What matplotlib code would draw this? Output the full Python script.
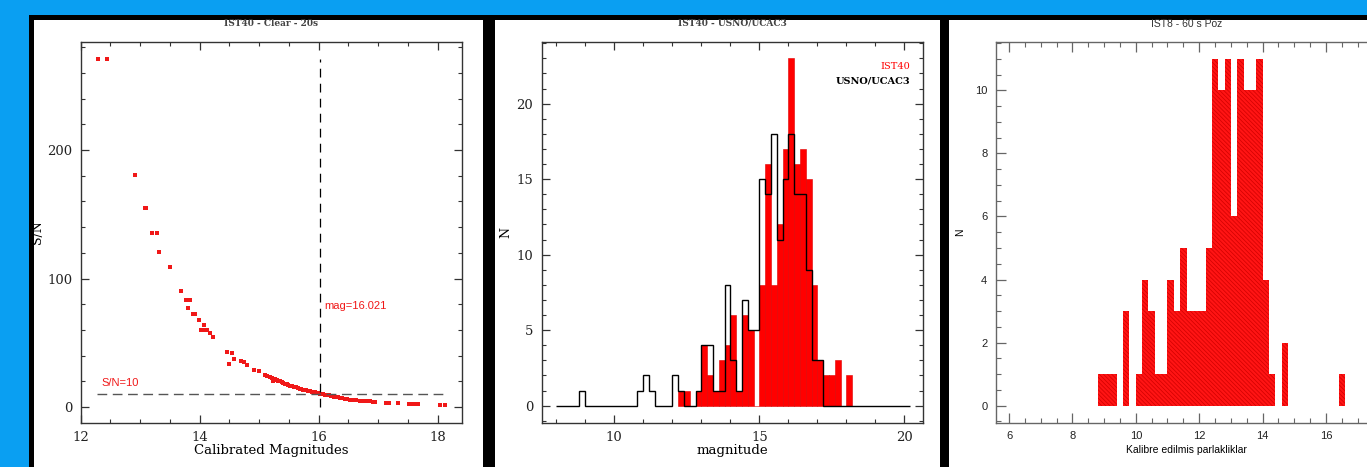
import numpy as np
import matplotlib
matplotlib.use("Agg")
import matplotlib.pyplot as plt
from matplotlib.patches import Rectangle
from matplotlib.ticker import MultipleLocator

# panel 1: S/N vs calibrated magnitude (IST40, Clear, 20s)
sn_mag = [12.29, 12.45, 12.91, 13.08, 13.10, 13.20, 13.28, 13.32, 13.50, 13.69,
          13.77, 13.84, 13.81, 13.89, 13.92, 13.99, 14.08, 14.03, 14.09, 14.13,
          14.17, 14.23, 14.46, 14.54, 14.49, 14.57, 14.69, 14.75, 14.79, 14.92,
          15.00, 15.09, 15.13, 15.18, 15.23, 15.22, 15.27, 15.30, 15.32, 15.35,
          15.38, 15.40, 15.43, 15.46, 15.49, 15.52, 15.55, 15.58, 15.62, 15.65,
          15.68, 15.70, 15.73, 15.76, 15.79, 15.82, 15.85, 15.88, 15.91, 15.94,
          15.97, 16.00, 16.03, 16.05, 16.08, 16.11, 16.14, 16.17, 16.20, 16.23,
          16.26, 16.29, 16.32, 16.36, 16.40, 16.44, 16.48, 16.53, 16.58, 16.63,
          16.69, 16.75, 16.80, 16.86, 16.92, 16.95, 17.13, 17.18, 17.33, 17.52,
          17.58, 17.64, 17.67, 18.04, 18.12]
sn_val = [271.0, 271.0, 180.5, 154.6, 154.6, 135.7, 135.7, 120.4, 108.7, 90.5,
          83.5, 83.5, 77.3, 72.4, 72.4, 67.4, 64.0, 60.2, 60.2, 60.2,
          57.6, 54.2, 42.8, 42.0, 33.7, 37.6, 36.0, 35.3, 33.0, 29.0,
          28.3, 25.2, 24.4, 23.6, 20.0, 22.5, 21.8, 21.0, 20.5, 20.0,
          19.5, 18.8, 18.2, 17.6, 16.9, 16.5, 16.1, 15.5, 15.2, 14.8,
          14.3, 14.0, 13.6, 13.3, 13.0, 12.6, 12.3, 12.0, 11.7, 11.4,
          11.1, 10.8, 10.5, 10.2, 9.9, 9.6, 9.3, 9.0, 8.7, 8.4,
          8.1, 7.8, 7.5, 7.2, 6.8, 6.5, 6.2, 5.8, 5.5, 5.2,
          4.9, 4.6, 4.4, 4.3, 4.1, 4.0, 3.5, 3.4, 3.0, 2.4,
          2.4, 2.3, 2.2, 1.3, 1.3]
mag_limit = 16.021
sn_limit = 10

# panel 2: IST40 vs USNO/UCAC3 histograms (bin width 0.2)
ist40_edges = np.round(np.arange(12.2, 18.21, 0.2), 2)
ist40_counts = [1, 1, 0, 1, 4, 2, 1, 3, 4, 6, 1, 6, 5, 0, 8, 16, 8, 12, 17, 23,
                16, 17, 15, 8, 3, 2, 2, 3, 0, 2]
usno_edges = np.round(np.arange(8.0, 20.21, 0.2), 2)
usno_counts = ([0, 0, 0, 0, 1] + [0] * 9 + [1, 2, 1] + [0, 0, 0]
               + [2, 1, 0, 0, 1, 4, 4, 1, 1, 8, 3, 1, 7, 5, 5, 15, 14, 18, 11, 15,
                  18, 14, 14, 9, 3, 3] + [0] * 15)

# panel 3: IST8 60 s exposure histogram (bin width 0.2)
ist8_edges = np.round(np.arange(8.8, 16.61, 0.2), 2)
ist8_counts = [1, 1, 1, 0, 3, 0, 1, 4, 3, 1, 1, 4, 3, 5, 3, 3, 3, 5, 11, 10,
               11, 6, 11, 10, 10, 11, 4, 1, 0, 2, 0, 0, 0, 0, 0, 0, 0, 0, 1]

W, H = 1367, 467
fig = plt.figure(figsize=(W / 100, H / 100), dpi=100)
fig.patch.set_facecolor('#0a9ff2')


def box(x0, y0, x1, y1):
    return [x0 / W, 1 - y1 / H, (x1 - x0) / W, (y1 - y0) / H]


def rect(x0, y0, x1, y1, color):
    l, b, w, h = box(x0, y0, x1, y1)
    fig.add_artist(Rectangle((l, b), w, h, transform=fig.transFigure,
                             facecolor=color, edgecolor='none', zorder=0))


# black frames and white slide panels
rect(29, 15, 1367, 467, 'black')
rect(34, 20, 483, 467, 'white')
rect(495, 20, 940, 467, 'white')
rect(949, 20, 1367, 467, 'white')

serif = 'DejaVu Serif'
sans = 'Liberation Sans'


def style(ax, color='#333333', length=6, mlength=3, size=9.5, family=serif):
    for s in ax.spines.values():
        s.set_color(color)
        s.set_linewidth(1.0)
    ax.tick_params(which='both', direction='in', top=True, right=True,
                   color=color, labelsize=size, pad=6, labelcolor='#222222')
    ax.tick_params(which='major', length=length, width=0.9)
    ax.tick_params(which='minor', length=mlength, width=0.8)
    for lab in ax.get_xticklabels() + ax.get_yticklabels():
        lab.set_family(family)


# ---- panel 1 ----
ax1 = fig.add_axes(box(80.7, 41.7, 462, 422.7))
ax1.scatter(sn_mag, sn_val, marker='s', s=6, color='#f01818', linewidths=0)
ax1.plot([mag_limit, mag_limit], [0, 271], color='black', lw=0.9,
         dashes=(7, 5))
ax1.plot([12.28, 18.14], [sn_limit, sn_limit], color='#555555', lw=1.0,
         dashes=(7, 4))
ax1.text(12.35, 18.5, 'S/N=10', color='#f01818', fontsize=8, family=sans,
         va='center')
ax1.text(16.09, 79, 'mag=16.021', color='#f01818', fontsize=8, family=sans,
         va='center')
ax1.set_xlim(12, 18.41)
ax1.set_ylim(-12.2, 284.3)
ax1.xaxis.set_major_locator(MultipleLocator(2))
ax1.xaxis.set_minor_locator(MultipleLocator(0.5))
ax1.yaxis.set_major_locator(MultipleLocator(100))
ax1.yaxis.set_minor_locator(MultipleLocator(20))
style(ax1)
ax1.set_xlabel('Calibrated Magnitudes', family=serif, fontsize=9.5)
ax1.set_ylabel('S/N', family=serif, fontsize=9)
ax1.xaxis.set_label_coords(0.5, -0.055)
ax1.yaxis.set_label_coords(-0.095, 0.5)
ax1.text(0.5, 1 + 17.7 / 381, 'IST40 - Clear - 20s', transform=ax1.transAxes,
         ha='center', va='center', fontsize=6.5, family=serif,
         fontweight='bold', color='#444444')

# ---- panel 2 ----
ax2 = fig.add_axes(box(541.7, 41.7, 923.3, 422.7))
ax2.bar(ist40_edges[:-1], ist40_counts, width=0.2, align='edge', color='red',
        edgecolor='#dd0000', linewidth=0.4)
ax2.stairs(usno_counts, usno_edges, color='black', lw=1.0)
ax2.set_xlim(7.5, 20.65)
ax2.set_ylim(-1.13, 24.1)
ax2.xaxis.set_major_locator(MultipleLocator(5))
ax2.xaxis.set_minor_locator(MultipleLocator(1))
ax2.yaxis.set_major_locator(MultipleLocator(5))
ax2.yaxis.set_minor_locator(MultipleLocator(1))
style(ax2)
ax2.set_xlabel('magnitude', family=serif, fontsize=9.5)
ax2.set_ylabel('N', family=serif, fontsize=9)
ax2.xaxis.set_label_coords(0.5, -0.055)
ax2.yaxis.set_label_coords(-0.078, 0.5)
ax2.text(0.965, 0.935, 'IST40', transform=ax2.transAxes, ha='right',
         va='center', color='red', fontsize=7, family=serif)
ax2.text(0.965, 0.898, 'USNO/UCAC3', transform=ax2.transAxes, ha='right',
         va='center', color='black', fontsize=7, family=serif,
         fontweight='bold')
ax2.text(0.5, 1 + 18.5 / 381, 'IST40 - USNO/UCAC3', transform=ax2.transAxes,
         ha='center', va='center', fontsize=6.5, family=serif,
         fontweight='bold', color='#444444')

# ---- panel 3 ----
ax3 = fig.add_axes(box(995.7, 41.7, 1376.7, 422.7))
plt.rcParams['hatch.linewidth'] = 0.5
ax3.bar(ist8_edges[:-1], ist8_counts, width=0.2, align='edge', color='#ff1414',
        edgecolor='#d00000', hatch='\\\\\\\\\\\\\\\\', linewidth=0)
ax3.set_xlim(5.58, 17.6)
ax3.set_ylim(-0.54, 11.54)
ax3.xaxis.set_major_locator(MultipleLocator(2))
ax3.xaxis.set_minor_locator(MultipleLocator(0.5))
ax3.yaxis.set_major_locator(MultipleLocator(2))
ax3.yaxis.set_minor_locator(MultipleLocator(0.5))
style(ax3, color='#666666', length=7, mlength=3.5, size=8, family=sans)
ax3.set_xlabel('Kalibre edilmis parlakliklar', family=sans, fontsize=7.5)
ax3.set_ylabel('N', family=sans, fontsize=7.5)
ax3.xaxis.set_label_coords(0.5, -0.058)
ax3.yaxis.set_label_coords(-0.08, 0.5)
ax3.text(0.5, 1 + 17.7 / 381, 'IST8 - 60 s Poz', transform=ax3.transAxes,
         ha='center', va='center', fontsize=7.5, family=sans, color='#333333')

fig.savefig('out.png', dpi=100)
